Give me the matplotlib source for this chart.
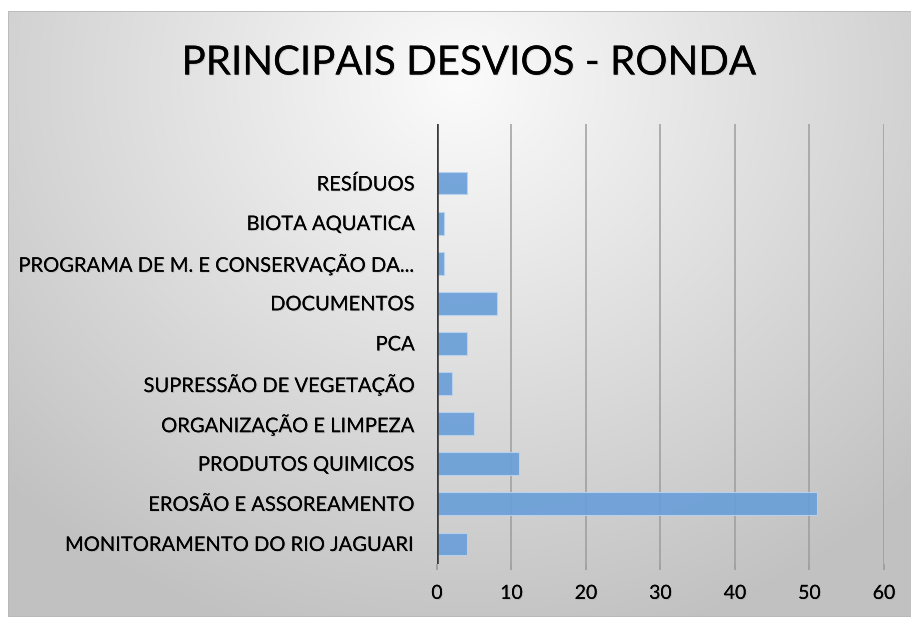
import numpy as np
import matplotlib.pyplot as plt
import matplotlib.patheffects as pe
from matplotlib.patches import Rectangle

# dados
categorias = ["MONITORAMENTO DO RIO JAGUARI", "EROSÃO E ASSOREAMENTO", "PRODUTOS QUIMICOS",
              "ORGANIZAÇÃO E LIMPEZA", "SUPRESSÃO DE VEGETAÇÃO", "PCA", "DOCUMENTOS",
              "PROGRAMA DE M. E CONSERVAÇÃO DA...", "BIOTA AQUATICA", "RESÍDUOS"]
valores = [4, 51, 11, 5, 2, 4, 8, 1, 1, 4]
ticks_x = [0, 10, 20, 30, 40, 50, 60]
titulo = "PRINCIPAIS DESVIOS - RONDA"

plt.rcParams['font.family'] = ['Lato', 'DejaVu Sans']
W, H = 912, 617
fig = plt.figure(figsize=[W / 100, H / 100], dpi=100)

# fundo com gradiente radial
bg = fig.add_axes([8 / W, 0, (W - 8) / W, (H - 11) / H])
yy, xx = np.mgrid[0:606, 0:904]
d = np.sqrt(((xx - 452) / 620.0) ** 2 + ((yy - 70) / 560.0) ** 2)
g = np.clip(0.985 - 0.22 * d, 0.76, 1.0)
bg.imshow(np.dstack([g, g, g]), aspect='auto', extent=[0, 1, 0, 1], origin='upper')
bg.add_patch(Rectangle((0, 0), 1, 1, transform=bg.transAxes, fill=False,
                       edgecolor="#b8b8b8", linewidth=1.2))
bg.axis("off")

sombra = [pe.withSimplePatchShadow(offset=(0.7, -0.7), shadow_rgbFace="#888888", alpha=0.3), pe.Normal()]

fig.text(468 / W, 1 - 63 / H, titulo, ha="center", va="center", fontsize=29,
         color="black", path_effects=sombra)

ax = fig.add_axes([437 / W, 1 - 564 / H, 447 / W, 440 / H])
ax.patch.set_alpha(0)
y = np.arange(len(categorias))
ax.barh(y, valores, height=0.57, color="#6a9fd8", alpha=0.92,
        edgecolor="#b9d3ef", linewidth=0.8, zorder=3)
ax.set(xlim=[0, 60], ylim=[-0.5, 10.47])
ax.set_xticks(ticks_x)
ax.set_yticks(y)
ax.set_yticklabels(categorias)
ax.grid(True, axis="x", color="#9a9a9a", linewidth=1.4, alpha=0.75, zorder=0)
ax.axvline(0, color="#3a3a3a", linewidth=2.6, zorder=4)
for s in ax.spines.values():
    s.set_visible(False)
ax.tick_params(axis="y", length=0, pad=16, labelsize=14.5)
ax.tick_params(axis="x", length=4, width=1.2, color="#9a9a9a", pad=11, labelsize=14)
for lab in ax.get_xticklabels() + ax.get_yticklabels():
    lab.set_path_effects(sombra)

fig.savefig("out.png", dpi=100)
